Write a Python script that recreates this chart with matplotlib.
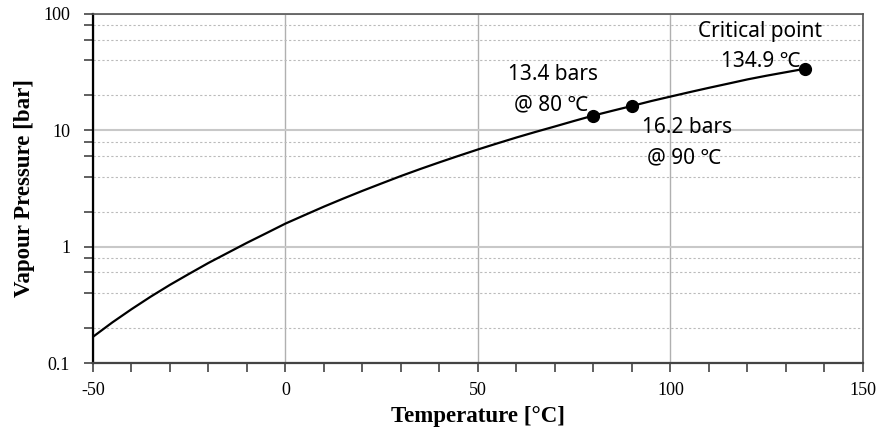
import matplotlib
matplotlib.use("Agg")
import matplotlib.pyplot as plt
from matplotlib.ticker import FixedLocator, NullFormatter, MultipleLocator

# vapour pressure curve
temps = [-50, -45, -40, -35, -30, -25, -20, -15, -10, -5, 0, 5, 10, 15, 20, 25, 30, 35, 40,
         45, 50, 55, 60, 65, 70, 75, 80, 85, 90, 95, 100, 105, 110, 115, 120, 125, 130, 134.9]
pressure = [0.168, 0.223, 0.29, 0.372, 0.47, 0.585, 0.725, 0.885, 1.08, 1.305, 1.58, 1.87, 2.21,
            2.59, 3.02, 3.5, 4.05, 4.65, 5.31, 6.04, 6.85, 7.72, 8.68, 9.7, 10.8, 12.05, 13.4,
            14.75, 16.2, 17.85, 19.5, 21.3, 23.2, 25.2, 27.4, 29.5, 31.6, 33.8]

# marked points
pt_t = [80, 90, 134.9]
pt_p = [13.4, 16.2, 33.8]

xticks = [-50, 0, 50, 100, 150]
yticks = [0.1, 1, 10, 100]
ytick_labels = ["0.1", "1", "10", "100"]
yminor = [m * d for d in [0.1, 1, 10] for m in [2, 4, 6, 8]]

serif = "Liberation Serif"
ann_font = ["Noto Sans", "DejaVu Sans"]

fig = plt.figure(figsize=(8.78, 4.37), dpi=100)
ax = fig.add_axes([0.1059, 0.1693, 0.8770, 0.7987])

ax.plot(temps, pressure, color="black", lw=1.6, zorder=3)
ax.plot(pt_t, pt_p, "o", color="black", markersize=8.5, zorder=4)

ax.set_yscale("log")
ax.set_xlim(-50, 150)
ax.set_ylim(0.1, 100)

ax.set_xticks(xticks)
ax.set_xticklabels([str(t) for t in xticks], fontfamily=serif, fontsize=13)
ax.xaxis.set_minor_locator(MultipleLocator(10))
ax.set_yticks(yticks)
ax.set_yticklabels(ytick_labels, fontfamily=serif, fontsize=13)
ax.yaxis.set_minor_locator(FixedLocator(yminor))
ax.yaxis.set_minor_formatter(NullFormatter())

ax.tick_params(which="both", direction="out", length=6.5, width=1.2, color="#444444")
ax.tick_params(axis="x", which="major", pad=7)
ax.tick_params(axis="y", which="major", pad=10)
ax.tick_params(axis="x", which="both", top=False)
ax.tick_params(axis="y", which="both", right=False)

ax.grid(which="major", axis="x", color="#b0b0b0", lw=1.0, ls="-")
ax.grid(which="major", axis="y", color="#c8c8c8", lw=1.5, ls="-")
ax.grid(which="minor", axis="y", color="#bbbbbb", lw=0.8, ls=(0, (2, 2)))
ax.set_axisbelow(True)

ax.spines["left"].set_color("black")
ax.spines["left"].set_linewidth(1.6)
ax.spines["bottom"].set_color("#444444")
ax.spines["bottom"].set_linewidth(1.6)
for s in ["top", "right"]:
    ax.spines[s].set_color("#555555")
    ax.spines[s].set_linewidth(1.2)

ax.set_xlabel("Temperature [°C]", fontfamily=serif, fontweight="bold", fontsize=16.5, labelpad=5)
ax.set_ylabel("Vapour Pressure [bar]", fontfamily=serif, fontweight="bold", fontsize=16.5, labelpad=6)

ann = dict(family=ann_font, fontsize=15, ha="center", va="baseline")
ax.text(69.5, 27.1, "13.4 bars", **ann)
ax.text(69.0, 14.95, "@ 80 ℃", **ann)
ax.text(104.4, 9.49, "16.2 bars", **ann)
ax.text(103.5, 5.24, "@ 90 ℃", **ann)
ax.text(123.2, 63.8, "Critical point", **ann)
ax.text(123.5, 35.2, "134.9 ℃", **ann)

fig.savefig("out.png", dpi=100)
